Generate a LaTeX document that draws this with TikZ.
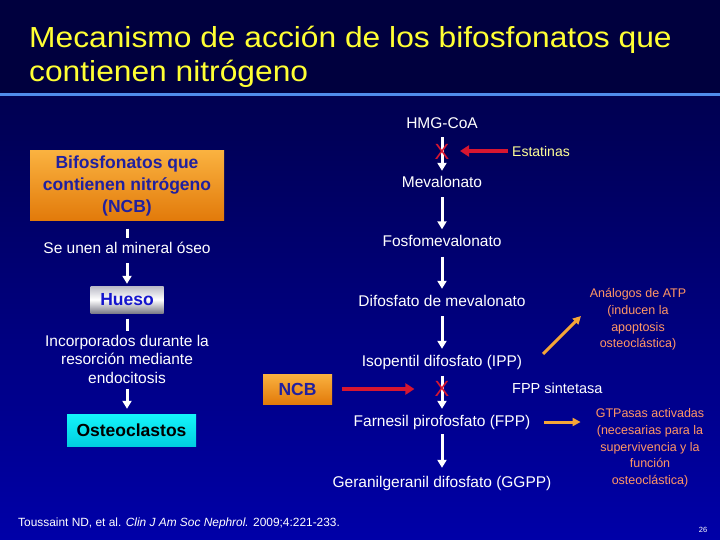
\documentclass[tikz,border=0pt]{standalone}
\usepackage{fontspec}
\setmainfont{Liberation Sans}
\usepackage{graphicx}
\usetikzlibrary{arrows.meta}
\definecolor{bgtop}{RGB}{0,0,62}
\definecolor{bgbot}{RGB}{0,0,168}
\definecolor{titleyellow}{RGB}{255,255,51}
\definecolor{rulecol}{RGB}{80,140,235}
\definecolor{obtop}{RGB}{250,178,64}
\definecolor{obbot}{RGB}{226,122,10}
\definecolor{ncbtext}{RGB}{32,32,160}
\definecolor{huetext}{RGB}{20,20,205}
\definecolor{cytop}{RGB}{20,245,250}
\definecolor{cybot}{RGB}{0,205,225}
\definecolor{myred}{RGB}{215,22,48}
\definecolor{myorange}{RGB}{245,165,55}
\definecolor{mysalmon}{RGB}{255,150,100}
\definecolor{estyellow}{RGB}{255,255,150}
\definecolor{svtop}{RGB}{185,185,198}
\definecolor{svbot}{RGB}{125,125,138}
\begin{document}
\begin{tikzpicture}[x=1pt,y=-1pt,
  every node/.style={inner sep=2pt},
  ctext/.style={text=white, font=\fontsize{15.5}{18.5}\selectfont, text height=11.5pt, text depth=3.5pt},
  wline/.style={draw=white, line width=3pt},
  warrow/.style={wline, -{Triangle[width=9pt,length=8pt]}},
  rarrow/.style={draw=myred, line width=4pt, -{Triangle[width=11pt,length=9pt]}},
  oarrow/.style={draw=myorange, line width=3pt, -{Triangle[width=8pt,length=8pt]}},
  xmark/.style={text=myred, font=\fontsize{22}{22}\selectfont, inner sep=0pt},
  sidetext/.style={text=mysalmon, font=\fontsize{12.5}{16.7}\selectfont, align=center},
  orangebox/.style={top color=obtop, bottom color=obbot, draw=none, text=ncbtext, font=\fontsize{17.5}{22}\selectfont\bfseries, align=center},
  silverbox/.style={top color=svtop, bottom color=svbot, middle color=white, draw=none, text=huetext, font=\fontsize{17.5}{22}\selectfont\bfseries},
  cyanbox/.style={top color=cytop, bottom color=cybot, draw=none, text=black, font=\fontsize{17.5}{22}\selectfont\bfseries},
  titletext/.style={anchor=base west, text=titleyellow, font=\fontsize{29}{33}\selectfont, inner sep=0pt}
]
\useasboundingbox (0,0) rectangle (720,540);
\fill[top color=bgtop, bottom color=bgbot] (0,0) rectangle (720,540);
\fill[bgtop] (0,0) rectangle (720,96);
\draw[rulecol, line width=3pt] (0,94.3) -- (720,94.3);

% title
\node[titletext] (t1) at (29,48) {\scalebox{1.095}[1]{Mecanismo de acción de los bifosfonatos que}};
\node[titletext] (t2) at (29,82) {\scalebox{1.095}[1]{contienen nitrógeno}};

% centre pathway
\node[ctext] (hmg) at (442,125) {HMG-CoA};
\node[ctext] (mev) at (442,184) {Mevalonato};
\node[ctext] (fos) at (442,243) {Fosfomevalonato};
\node[ctext] (dif) at (442,302) {Difosfato de mevalonato};
\node[ctext] (ipp) at (442,362) {Isopentil difosfato (IPP)};
\node[ctext] (fpp) at (442,422) {Farnesil pirofosfato (FPP)};
\node[ctext] (ggpp) at (442,483) {Geranilgeranil difosfato (GGPP)};

% left column
\node[orangebox, minimum width=194pt, minimum height=70pt] (ncb) at (127,185.5) {Bifosfonatos que\\contienen nitrógeno\\(NCB)};
\node[ctext] (une) at (127,250) {Se unen al mineral óseo};
\node[silverbox, minimum width=73pt, minimum height=27pt] (hue) at (127,299.5) {Hueso};
\node[text=white, font=\fontsize{15.5}{18.5}\selectfont, align=center] (inc) at (127,359) {Incorporados durante la\\resorción mediante\\endocitosis};
\node[cyanbox, minimum width=129pt, minimum height=32pt] (ost) at (131.5,430) {Osteoclastos};
\node[orangebox, minimum width=69pt, minimum height=30pt] (ncbs) at (297.5,389) {NCB};

% right side
\node[text=estyellow, font=\fontsize{14}{16}\selectfont, anchor=west] (est) at (510,151) {Estatinas};
\node[text=white, font=\fontsize{14.5}{16}\selectfont, anchor=west] (fppsyn) at (510,388) {FPP sintetasa};
\node[sidetext] (ana) at (638,319.5) {Análogos de ATP\\(inducen la\\apoptosis\\osteoclástica)};
\node[sidetext] (gtp) at (650,448) {GTPasas activadas\\(necesarias para la\\supervivencia y la\\función\\osteoclástica)};

% footer
\node[anchor=base west, text=white, font=\fontsize{11.9}{13}\selectfont] (cit) at (16,526) {Toussaint ND, et al. \textit{Clin J Am Soc Nephrol.} 2009;4:221-233.};
\node[text=white, font=\fontsize{7.5}{8}\selectfont] (pg) at (703,530) {26};

% white arrows
\draw[warrow, shorten <=2.5pt, shorten >=3.5pt] (hmg) -- (mev);
\draw[warrow, shorten <=3.5pt, shorten >=4pt] (mev) -- (fos);
\draw[warrow, shorten <=4pt, shorten >=3.5pt] (fos) -- (dif);
\draw[warrow, shorten <=4.5pt, shorten >=3.5pt] (dif) -- (ipp);
\draw[warrow, shorten <=4pt, shorten >=3.5pt] (ipp) -- (fpp);
\draw[warrow, shorten <=2.5pt, shorten >=5.5pt] (fpp) -- (ggpp);
\draw[wline, shorten <=8pt, shorten >=2.5pt] (ncb) -- (une);
\draw[warrow, shorten <=3.5pt, shorten >=2pt] (une) -- (hue);
\draw[wline, shorten <=5.5pt, shorten >=2pt] (hue) -- (inc);
\draw[warrow, shorten <=3.5pt, shorten >=5pt] (inc.south) -- (inc.south |- ost.north);

% inhibition marks
\node[xmark] (x1) at (442,152) {X};
\node[xmark] (x2) at (442,389) {X};

% red arrows
\draw[rarrow, shorten <=2pt, shorten >=10.5pt] (est.west) -- (est.west -| x1.east);
\draw[rarrow, shorten <=10pt, shorten >=20pt] (ncbs.east) -- (ncbs.east -| x2.west);

% orange arrows
\draw[oarrow, shorten <=12pt, shorten >=13pt] (fpp.east) -- (fpp.east -| gtp.west);
\coordinate (d1) at (543,354);
\coordinate (d2) at (581,316);
\draw[oarrow] (d1) -- (d2);
\end{tikzpicture}
\end{document}
